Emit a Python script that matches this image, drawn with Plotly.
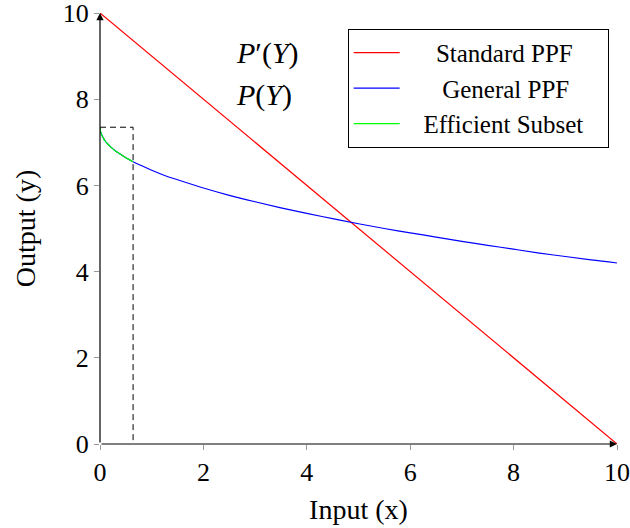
import plotly.graph_objects as go

# ---- data ----
std_x = [0, 10]
std_y = [10, 0]

gen_x = [0, 0.01, 0.03, 0.06, 0.1, 0.15, 0.2, 0.3, 0.4, 0.5, 0.64, 0.8, 1, 1.25, 1.5,
         2, 2.5, 3, 3.5, 4, 4.5, 5, 5.5, 6, 6.5, 7, 7.5, 8, 8.5, 9, 9.5, 10]
gen_y = [7.35, 7.25, 7.18, 7.11, 7.03, 6.96, 6.90, 6.80, 6.72, 6.64, 6.55, 6.46, 6.35,
         6.23, 6.13, 5.94, 5.77, 5.62, 5.48, 5.35, 5.23, 5.11, 5.00, 4.90, 4.80, 4.70,
         4.61, 4.52, 4.43, 4.35, 4.27, 4.20]

eff_x = gen_x[:11]
eff_y = gen_y[:11]

box_x = [0, 0.64, 0.64]
box_y = [7.35, 7.35, 0]

tick_vals = [0, 2, 4, 6, 8, 10]
tick_text = ["0", "2", "4", "6", "8", "10"]

series_names = ["Standard PPF", "General PPF", "Efficient Subset"]

FONT = "Liberation Serif, DejaVu Serif, serif"
FS = 26
NB = "\u00a0"

# legend labels are centred in the reference; pad with non-breaking spaces
leg_names = [NB * 5 + series_names[0] + NB * 2,
             NB * 6 + series_names[1] + NB * 2,
             NB * 3 + series_names[2] + NB * 3]

fig = go.Figure()
fig.add_trace(go.Scatter(x=box_x, y=box_y, mode="lines", showlegend=False,
                         line=dict(color="black", width=1, dash="6px,4px"),
                         hoverinfo="skip", cliponaxis=False))
fig.add_trace(go.Scatter(x=std_x, y=std_y, mode="lines", name=leg_names[0],
                         line=dict(color="#ff0000", width=1.2), cliponaxis=False))
fig.add_trace(go.Scatter(x=gen_x, y=gen_y, mode="lines", name=leg_names[1],
                         line=dict(color="#0000ff", width=1.2, shape="spline"),
                         cliponaxis=False))
fig.add_trace(go.Scatter(x=eff_x, y=eff_y, mode="lines", name=leg_names[2],
                         line=dict(color="#00ff00", width=1.2, shape="spline"),
                         cliponaxis=False))

# axis arrows
fig.add_annotation(x=10, y=0, ax=0, ay=0, xref="x", yref="y", axref="x", ayref="y",
                   showarrow=True, arrowhead=2, arrowsize=1.2, arrowwidth=1.2,
                   arrowcolor="black", text="")
fig.add_annotation(x=0, y=10, ax=0, ay=0, xref="x", yref="y", axref="x", ayref="y",
                   showarrow=True, arrowhead=2, arrowsize=1.2, arrowwidth=1.2,
                   arrowcolor="black", text="")

# labels
fig.add_annotation(x=2.6, y=9.08, xref="x", yref="y", showarrow=False, xanchor="left",
                   text="<i>P</i>′(<i>Y</i>)", font=dict(family=FONT, size=30, color="black"))
fig.add_annotation(x=2.6, y=8.1, xref="x", yref="y", showarrow=False, xanchor="left",
                   text="<i>P</i>(<i>Y</i>)", font=dict(family=FONT, size=30, color="black"))

axis_common = dict(range=[0, 10], tickvals=tick_vals, ticktext=tick_text,
                   showgrid=False, zeroline=False, showline=False,
                   ticks="outside", ticklen=5, tickcolor="#999999", tickwidth=1,
                   ticklabeloverflow="allow",
                   tickfont=dict(family=FONT, size=FS, color="black"))

fig.update_layout(
    width=630, height=528,
    paper_bgcolor="white", plot_bgcolor="white",
    margin=dict(l=99.5, r=12.7, t=13.3, b=84.3, autoexpand=False),
    font=dict(family=FONT, color="black"),
    xaxis=dict(**axis_common,
               title=dict(text="Input (x)", font=dict(family=FONT, size=28), standoff=13)),
    yaxis=dict(**axis_common,
               title=dict(text="Output (y)", font=dict(family=FONT, size=28), standoff=18)),
    legend=dict(x=0.479, y=0.963, xanchor="left", yanchor="top",
                bordercolor="black", borderwidth=1, bgcolor="white",
                font=dict(family=FONT, size=25, color="black"),
                tracegroupgap=0, itemwidth=46),
    showlegend=True,
)

# remove the default 8px page margin so the figure fills the window exactly
fig.write_html("out.html", config={"displayModeBar": False},
               post_script="document.body.style.margin='0';")
